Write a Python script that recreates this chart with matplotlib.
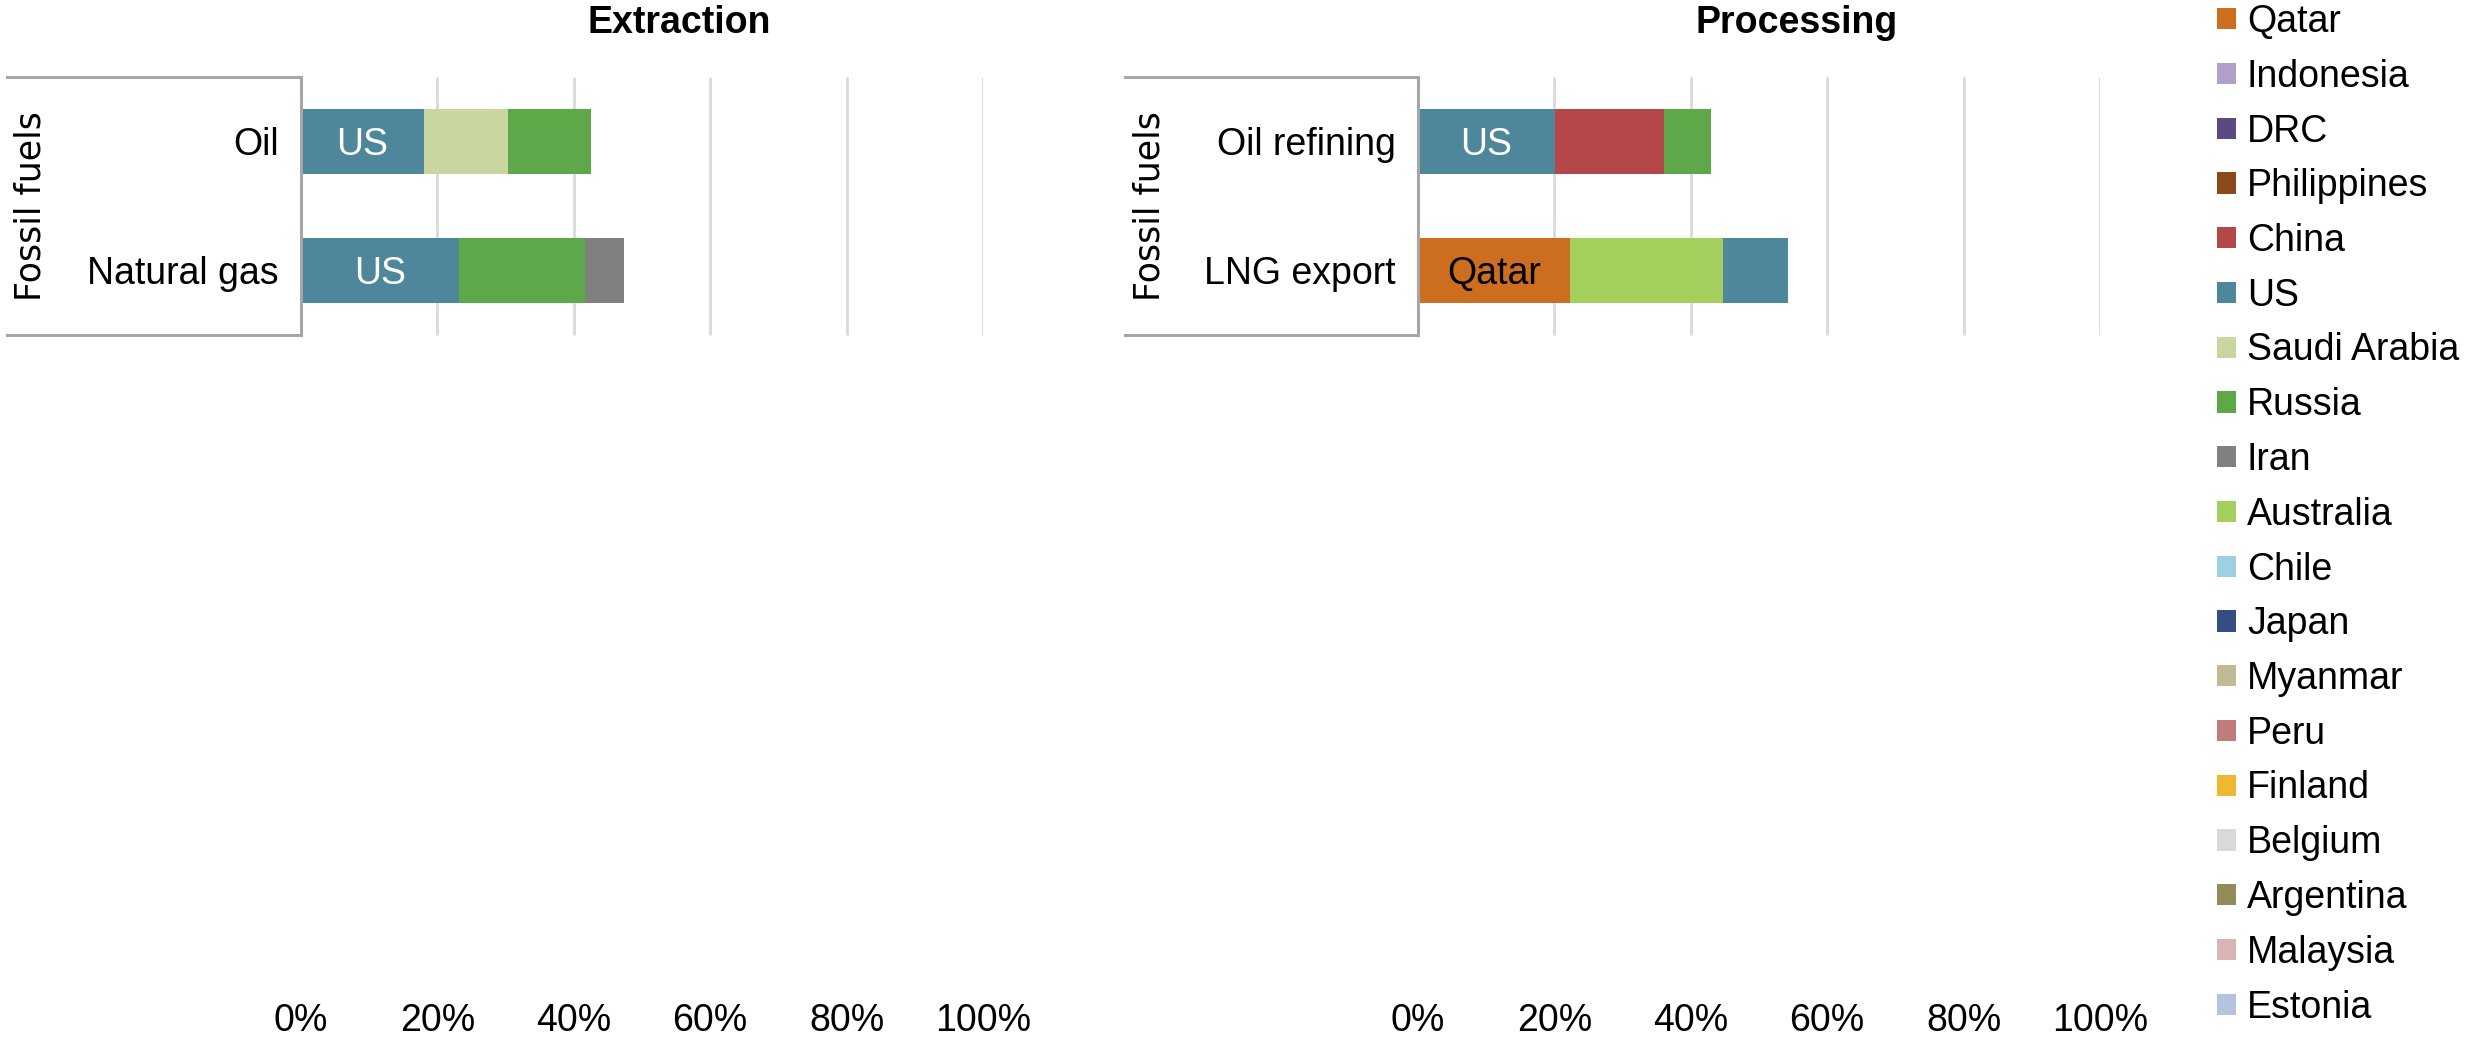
import matplotlib
matplotlib.use('Agg')
import matplotlib.pyplot as plt
from matplotlib.patches import Patch

plt.rcParams['font.family'] = ['Liberation Sans', 'DejaVu Sans']

# legend order and colours
countries = ['Qatar', 'Indonesia', 'DRC', 'Philippines', 'China', 'US',
             'Saudi Arabia', 'Russia', 'Iran', 'Australia', 'Chile', 'Japan',
             'Myanmar', 'Peru', 'Finland', 'Belgium', 'Argentina', 'Malaysia',
             'Estonia']
colors = ['#cc6d20', '#b09fcb', '#5b4a82', '#8b4a1a', '#b5474b', '#4e869b',
          '#c9d69f', '#5fa84a', '#808080', '#a4cf5c', '#9dd0e0', '#354d82',
          '#c0bb95', '#c07b7b', '#f0b731', '#d9d9d9', '#948b5a', '#d9b4b4',
          '#b4c3e0']
cmap = dict(zip(countries, colors))

group = 'Fossil fuels'

# extraction (share of world total, %)
ext_cats = ['Oil', 'Natural gas']
ext_countries = [['US', 'Saudi Arabia', 'Russia'], ['US', 'Russia', 'Iran']]
ext_values = [[18.0, 12.4, 12.1], [23.2, 18.5, 5.6]]

# processing
proc_cats = ['Oil refining', 'LNG export']
proc_countries = [['US', 'China', 'Russia'], ['Qatar', 'Australia', 'US']]
proc_values = [[20.1, 15.9, 7.0], [22.3, 22.4, 9.5]]

# only the leading country is labelled
label_color = {'US': 'white', 'Qatar': 'black'}

ticks = [0, 20, 40, 60, 80, 100]

W, H = 2484, 1041
fig = plt.figure(figsize=(W / 100, H / 100), dpi=100)

FS = 27
BOX_GRAY = '#a6a6a6'
GRID = '#d9d9d9'


def panel(box_left, x0, x1, title, cats, names, vals):
    top, bottom = 77, 995
    ax = fig.add_axes([x0 / W, 1 - bottom / H, (x1 - x0) / W, (bottom - top) / H])
    unit = 129.0
    ax.set_xlim(0, 100)
    ax.set_ylim(-0.5 + (bottom - top) / unit, -0.5)
    for s in ax.spines.values():
        s.set_visible(False)

    ax.vlines(ticks[1:], -0.5, 1.5, color=GRID, lw=2, zorder=0)

    for i, (row_n, row_v) in enumerate(zip(names, vals)):
        left = 0
        for n, v in zip(row_n, row_v):
            ax.barh(i, v, left=left, height=0.5, color=cmap[n], zorder=2)
            if n in label_color and left == 0:
                ax.text(left + v / 2, i, n, ha='center', va='center_baseline',
                        fontsize=FS, color=label_color[n], zorder=3)
            left += v

    # category box
    px = 100.0 / (x1 - x0)
    bx = (box_left - x0) * px
    ax.plot([0, 0], [-0.5, 1.5], color=BOX_GRAY, lw=2.2, clip_on=False, zorder=4)
    ax.plot([bx, 0], [-0.5, -0.5], color=BOX_GRAY, lw=2.2, clip_on=False)
    ax.plot([bx, 0], [1.5, 1.5], color=BOX_GRAY, lw=2.2, clip_on=False)
    ax.text(bx + 24 * px, 0.5, group, rotation=90, ha='center',
            va='center', fontsize=25, family='DejaVu Sans')

    ax.set_yticks(range(len(cats)))
    ax.set_yticklabels(cats, fontsize=FS)
    ax.tick_params(axis='y', length=0, pad=16)
    ax.set_xticks(ticks)
    ax.set_xticklabels(['%d%%' % t for t in ticks], fontsize=FS)
    ax.tick_params(axis='x', length=0, pad=6)

    ax.text(55.5, -0.5 - 54 / unit, title, ha='center', va='center',
            fontsize=FS, fontweight='bold', clip_on=False)
    return ax


panel(7, 301, 983, 'Extraction', ext_cats, ext_countries, ext_values)
panel(1125, 1418, 2100, 'Processing', proc_cats, proc_countries, proc_values)

handles = [Patch(facecolor=cmap[c], edgecolor='none', label=c) for c in countries]
fig.legend(handles=handles, loc='upper left', bbox_to_anchor=(2217 / W, 1 - 4 / H),
           frameon=False, fontsize=FS, handlelength=0.5, handleheight=0.5,
           handletextpad=0.3, labelspacing=0.5, borderpad=0, borderaxespad=0)

fig.savefig('out.png', dpi=100)
